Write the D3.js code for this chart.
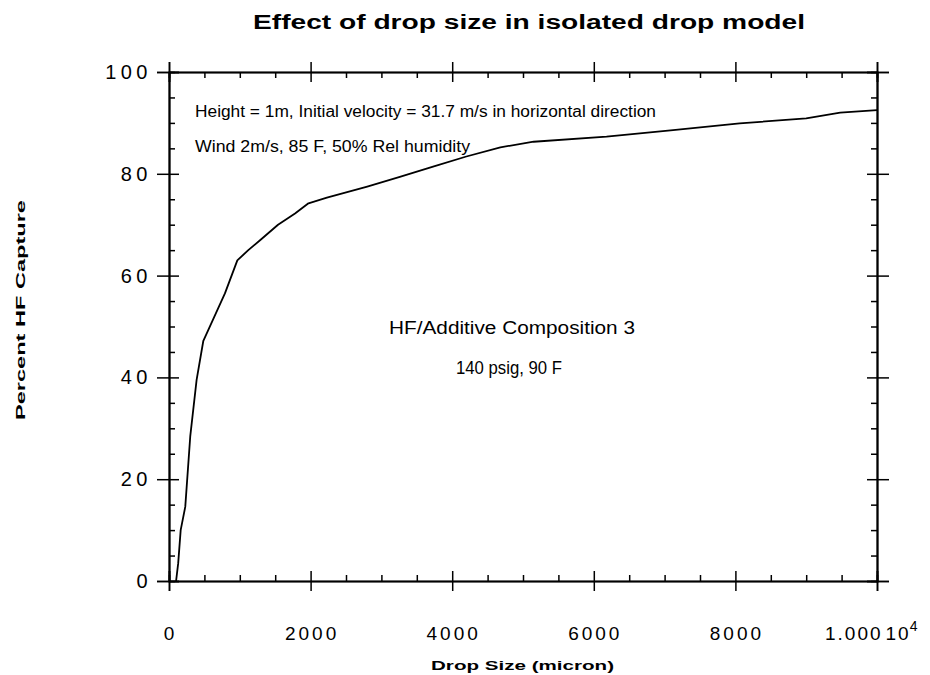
<!DOCTYPE html>
<html>
<head>
<meta charset="utf-8">
<script src="https://cdn.jsdelivr.net/npm/d3@7"></script>
<style>
  body { margin: 0; background: #fff; }
  text { font-family: "Liberation Sans", Arial, sans-serif; fill: #000; }
</style>
</head>
<body>
<div id="chart"></div>
<script>
const width = 930;
const height = 675;

// curve
const dropSize = [100, 130, 165, 230, 300, 390, 485, 790, 965, 1120, 1290, 1540, 1780, 1970, 2230,
  2800, 3260, 3730, 4200, 4680, 5150, 6180, 7120, 8060, 9000, 9480, 10000];
const capture = [0, 3.5, 10, 14.6, 28.4, 39.5, 47.2, 56.5, 63, 65, 67, 70, 72.2, 74.2, 75.3,
  77.5, 79.4, 81.4, 83.4, 85.2, 86.3, 87.3, 88.6, 89.9, 90.9, 92, 92.5];

const xMajor = [0, 2000, 4000, 6000, 8000, 10000];
const xLabels = ['0', '2000', '4000', '6000', '8000'];
const yMajor = [0, 20, 40, 60, 80, 100];
const yLabels = ['0', '20', '40', '60', '80', '100'];

const svg = d3.select('#chart')
  .append('svg')
  .attr('width', width)
  .attr('height', height);

const x = d3.scaleLinear().domain([0, 10000]).range([169, 877]);
const y = d3.scaleLinear().domain([0, 100]).range([581, 72]);

const xMinor = d3.range(0, 10001, 500).filter(v => v % 2000 !== 0);
const yMinor = d3.range(0, 101, 5).filter(v => v % 20 !== 0);

function drawAxis(axisFn, scale, transform, values, size) {
  const g = svg.append('g')
    .attr('transform', transform)
    .call(axisFn(scale).tickValues(values).tickSize(size).tickFormat(''));
  g.selectAll('path, line').attr('stroke', '#000').attr('stroke-width', 1.5);
  g.select('.domain').attr('stroke-width', 1.6);
  return g;
}

// bottom and top
drawAxis(d3.axisBottom, x, `translate(0,${y(0)})`, xMajor, 10);
drawAxis(d3.axisBottom, x, `translate(0,${y(0)})`, xMajor, -10);
drawAxis(d3.axisBottom, x, `translate(0,${y(0)})`, xMinor, -6);
drawAxis(d3.axisTop, x, `translate(0,${y(100)})`, xMajor, 10);
drawAxis(d3.axisTop, x, `translate(0,${y(100)})`, xMajor, -10);
drawAxis(d3.axisTop, x, `translate(0,${y(100)})`, xMinor, -6);
// left and right
drawAxis(d3.axisLeft, y, `translate(${x(0)},0)`, yMajor, 12);
drawAxis(d3.axisLeft, y, `translate(${x(0)},0)`, yMajor, -10);
drawAxis(d3.axisLeft, y, `translate(${x(0)},0)`, yMinor, -6);
drawAxis(d3.axisRight, y, `translate(${x(10000)},0)`, yMajor, 12);
drawAxis(d3.axisRight, y, `translate(${x(10000)},0)`, yMajor, -10);
drawAxis(d3.axisRight, y, `translate(${x(10000)},0)`, yMinor, -6);

// tick labels
svg.append('g').selectAll('text')
  .data(xLabels)
  .enter()
  .append('text')
  .attr('x', (d, i) => x(xMajor[i]) + 1.5)
  .attr('y', 640)
  .attr('text-anchor', 'middle')
  .style('font-size', '19px')
  .style('letter-spacing', '3px')
  .text(d => d);

const lastLabel = svg.append('text')
  .attr('x', x(10000) - 52)
  .attr('y', 640)
  .style('font-size', '19px')
  .style('letter-spacing', '2px');
lastLabel.append('tspan').text('1.000');
lastLabel.append('tspan').attr('dx', 3).text('10');
lastLabel.append('tspan').attr('dy', -9).attr('dx', -1).style('font-size', '14px').style('letter-spacing', '0px').text('4');

svg.append('g').selectAll('text')
  .data(yLabels)
  .enter()
  .append('text')
  .attr('x', 152)
  .attr('y', (d, i) => y(yMajor[i]) + 7)
  .attr('text-anchor', 'end')
  .style('font-size', '20px')
  .style('letter-spacing', '4.5px')
  .text(d => d);

// curve
const line = d3.line()
  .x((d, i) => x(dropSize[i]))
  .y((d, i) => y(capture[i]));

svg.append('path')
  .datum(capture)
  .attr('d', line)
  .attr('fill', 'none')
  .attr('stroke', '#000')
  .attr('stroke-width', 1.8)
  .attr('stroke-linejoin', 'round');

// titles
svg.append('text')
  .attr('x', 253)
  .attr('y', 29)
  .attr('textLength', 552)
  .attr('lengthAdjust', 'spacingAndGlyphs')
  .style('font-size', '20px')
  .style('font-weight', 'bold')
  .text('Effect  of  drop  size  in  isolated  drop  model');

svg.append('text')
  .attr('x', 431)
  .attr('y', 670)
  .attr('textLength', 183)
  .attr('lengthAdjust', 'spacingAndGlyphs')
  .style('font-size', '13px')
  .style('font-weight', 'bold')
  .text('Drop   Size   (micron)');

svg.append('text')
  .attr('transform', 'translate(25,420) rotate(-90)')
  .attr('textLength', 220)
  .attr('lengthAdjust', 'spacingAndGlyphs')
  .style('font-size', '13px')
  .style('font-weight', 'bold')
  .text('Percent   HF   Capture');

// annotations
svg.append('text')
  .attr('x', 195)
  .attr('y', 117)
  .attr('textLength', 461)
  .attr('lengthAdjust', 'spacingAndGlyphs')
  .style('font-size', '16px')
  .text('Height = 1m,  Initial velocity = 31.7 m/s in horizontal direction');

svg.append('text')
  .attr('x', 195)
  .attr('y', 152)
  .attr('textLength', 275)
  .attr('lengthAdjust', 'spacingAndGlyphs')
  .style('font-size', '16px')
  .text('Wind 2m/s,  85 F,  50% Rel humidity');

svg.append('text')
  .attr('x', 389)
  .attr('y', 334)
  .attr('textLength', 246)
  .attr('lengthAdjust', 'spacingAndGlyphs')
  .style('font-size', '18px')
  .text('HF/Additive   Composition 3');

svg.append('text')
  .attr('x', 456)
  .attr('y', 374)
  .attr('textLength', 106)
  .attr('lengthAdjust', 'spacingAndGlyphs')
  .style('font-size', '18px')
  .text('140  psig,  90 F');
</script>
</body>
</html>
